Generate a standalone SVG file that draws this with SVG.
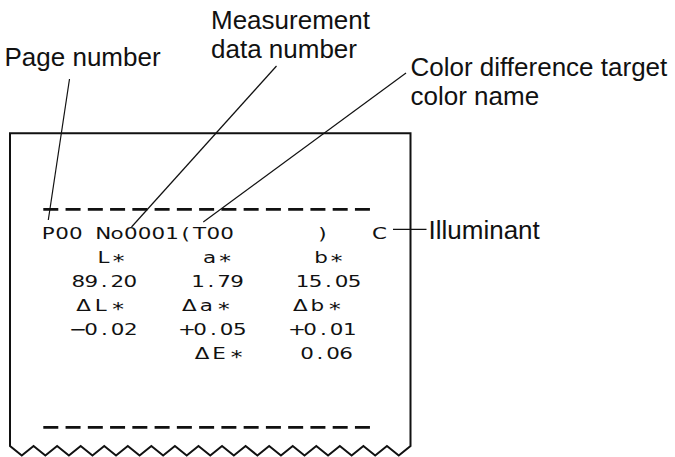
<svg xmlns="http://www.w3.org/2000/svg" width="675" height="457" viewBox="0 0 675 457">
<style>
.lbl{font-family:"Liberation Sans",Arial,sans-serif;font-size:26px;fill:#111}
.pr{font-family:"DejaVu Sans",Verdana,sans-serif;font-size:16.5px;fill:#111;text-anchor:middle}
.st{font-size:18px}
.lead{stroke:#111;stroke-width:1.2;fill:none}
.dash{stroke:#111;stroke-width:2.7;stroke-dasharray:15 7.26;fill:none}
.paper{fill:#fff;stroke:#111;stroke-width:2;stroke-linejoin:miter}
</style>
<rect width="675" height="457" fill="#fff"/>
<g id="printout">
<path class="paper" d="M10,446 V133.3 H410.5 V446 L398.74,455.5 L386.96,446 L375.18,455.5 L363.40,446 L351.62,455.5 L339.84,446 L328.06,455.5 L316.28,446 L304.50,455.5 L292.72,446 L280.94,455.5 L269.16,446 L257.38,455.5 L245.60,446 L233.82,455.5 L222.04,446 L210.26,455.5 L198.48,446 L186.70,455.5 L174.92,446 L163.14,455.5 L151.36,446 L139.58,455.5 L127.80,446 L116.02,455.5 L104.24,446 L92.46,455.5 L80.68,446 L68.90,455.5 L57.12,446 L45.34,455.5 L33.56,446 L21.78,455.5 Z"/>
<line class="dash" x1="43.3" y1="209.3" x2="370" y2="209.3"/>
<line class="dash" x1="43.3" y1="427.3" x2="370" y2="427.3"/>
<g transform="scale(1.3 1)">
<text class="pr" y="239" x="37.15 47.73 58.31 68.88 79.46 90.04 100.62 111.19 121.77 132.35 142.92 153.50 164.08 174.65">P00 No0001(T00</text>
<text class="pr" x="248.08" y="239">)</text>
<text class="pr" x="291.92" y="239">C</text>
<text class="pr" y="263"><tspan x="79.62">L</tspan><tspan class="st" x="91.15" y="267">*</tspan></text>
<text class="pr" y="263"><tspan x="161.15">a</tspan><tspan class="st" x="173.08" y="267">*</tspan></text>
<text class="pr" y="263"><tspan x="246.92">b</tspan><tspan class="st" x="258.85" y="267">*</tspan></text>
<text class="pr" y="287" x="60.23 70.23 80.23 90.23 100.23">89.20</text>
<text class="pr" y="287" x="152.31 162.31 172.31 182.31">1.79</text>
<text class="pr" y="287" x="232.69 242.69 252.69 262.69 272.69">15.05</text>
<text class="pr" y="311"><tspan x="64.38">Δ</tspan><tspan x="77.46">L</tspan><tspan class="st" x="90.92" y="315">*</tspan></text>
<text class="pr" y="311"><tspan x="145.62">Δ</tspan><tspan x="158.69">a</tspan><tspan class="st" x="172.15" y="315">*</tspan></text>
<text class="pr" y="311"><tspan x="231">Δ</tspan><tspan x="244.08">b</tspan><tspan class="st" x="257.54" y="315">*</tspan></text>
<text class="pr" y="335.5" x="60 70.15 80.31 90.46 100.62">−0.02</text>
<text class="pr" y="335.5" x="143.85 154 164.15 174.31 184.46">+0.05</text>
<text class="pr" y="335.5" x="228.46 238.62 248.77 258.92 269.08">+0.01</text>
<text class="pr" y="359.5"><tspan x="155.38">Δ</tspan><tspan x="168.46">E</tspan><tspan class="st" x="181.92" y="363.5">*</tspan></text>
<text class="pr" y="359.5" x="236.15 246.15 256.15 266.15">0.06</text>
</g>
</g>
<g id="label-page"><text class="lbl" x="4.5" y="66">Page number</text></g>
<g id="label-measurement"><text class="lbl" x="211" y="29">Measurement</text><text class="lbl" x="211" y="58">data number</text></g>
<g id="label-target"><text class="lbl" x="410.5" y="76">Color difference target</text><text class="lbl" x="410.5" y="105">color name</text></g>
<g id="label-illuminant"><text class="lbl" x="428.5" y="238.5">Illuminant</text></g>
<g id="connectors">
<line class="lead" x1="69.5" y1="79" x2="48.3" y2="220"/>
<line class="lead" x1="276.5" y1="66" x2="131.5" y2="227"/>
<line class="lead" x1="406" y1="73" x2="203.3" y2="222"/>
<line class="lead" x1="393" y1="229.3" x2="426.5" y2="229.3"/>
</g>
</svg>
